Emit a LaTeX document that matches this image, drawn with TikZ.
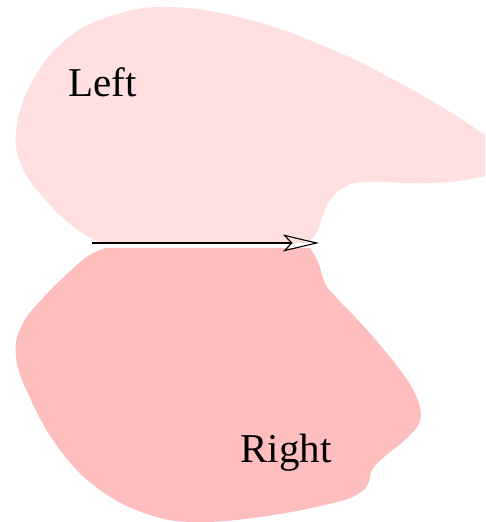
\documentclass[tikz,border=0pt]{standalone}
\usepackage{fontspec}
\setmainfont{Liberation Serif}
\usetikzlibrary{arrows.meta}
\definecolor{toppink}{RGB}{255,223,223}
\definecolor{botpink}{RGB}{255,190,190}
\tikzset{
  lbl/.style={inner sep=0pt, anchor=base west, font=\fontsize{20.5}{24}\selectfont},
  flowarrow/.style={line width=0.55pt, -{Stealth[open, length=18pt, width=8.5pt, inset=4pt, line width=0.55pt]}}
}
\begin{document}
\begin{tikzpicture}[x=0.5pt, y=-0.5pt]
\useasboundingbox (0,0) rectangle (485,522);
\clip (0,0) rectangle (485,522);
% top region
\fill[toppink] plot[smooth, tension=0.7] coordinates {
 (308,243) (317,232) (322,218) (330,200) (345,187) (367,182) (433,183) (485,176) (505,165) (505,148) (485,135)
 (450,112) (400,83) (333,50) (250,20) (167,7) (105,18) (63,42) (33,80) (17,125) (20,162) (42,196) (75,228) (102,243)
} -- cycle;
% bottom region
\fill[botpink] plot[smooth, tension=0.7] coordinates {
 (310,248) (318,262) (325,283) (335,296) (367,330) (400,370) (417,398) (420,420) (408,437) (383,458) (372,470) (368,484) (358,494)
 (333,503) (267,516) (200,522) (150,515) (100,490) (60,450) (30,398) (16,357) (22,325) (43,298) (67,274) (88,256) (106,248)
} -- cycle;
\node[lbl] (left) at (68,97) {Left};
\node[lbl] (right) at (240,462) {Right};
\coordinate (a) at (92,243);
\coordinate (b) at (319,243);
\draw[flowarrow] (a) -- (b);
\end{tikzpicture}
\end{document}
